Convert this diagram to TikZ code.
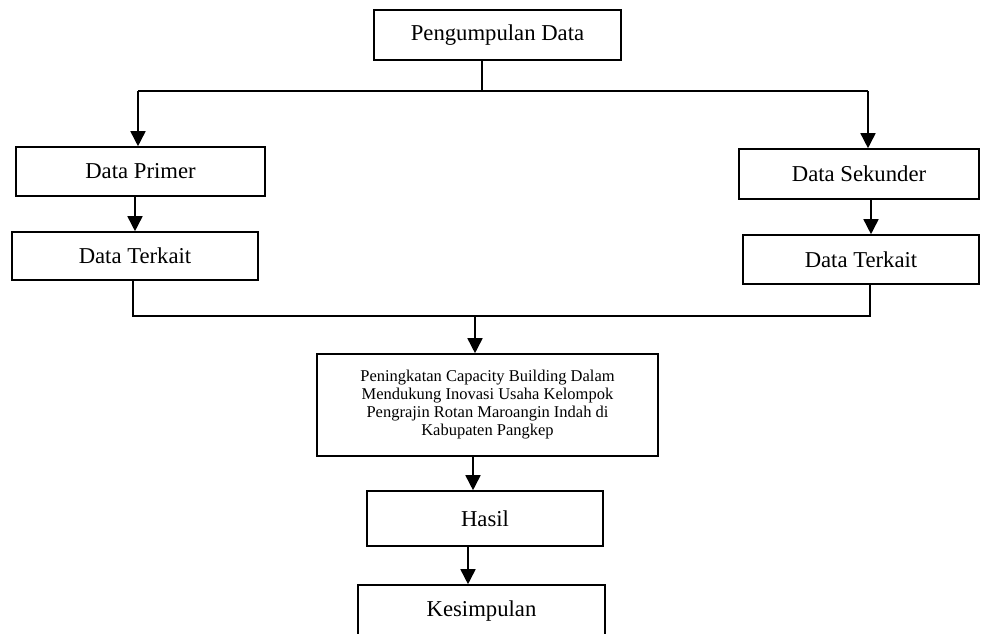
\documentclass[tikz,border=0pt]{standalone}
\usepackage{fontspec}
\setmainfont{Liberation Serif}
\usetikzlibrary{arrows.meta,calc}
\tikzset{
  box/.style={draw, line width=1.6pt, rectangle, inner sep=0pt, font=\fontsize{22.7}{26}\selectfont},
  conn/.style={line width=1.6pt},
  arr/.style={line width=1.6pt, -{Triangle[width=15pt,length=15pt]}},
}
\begin{document}
\begin{tikzpicture}[x=1pt,y=-1pt]
\clip (0,0) rectangle (981,633);
\fill[white] (0,0) rectangle (981,633);
\node[box, minimum width=247pt, minimum height=50pt] (top) at (497.5,35) {Pengumpulan Data};
\node[box, minimum width=249pt, minimum height=49pt] (prim) at (140.5,171.5) {Data Primer};
\node[box, minimum width=246pt, minimum height=48pt] (tkl) at (135,256) {Data Terkait};
\node[box, minimum width=240pt, minimum height=50pt] (sek) at (859,174) {Data Sekunder};
\node[box, minimum width=236pt, minimum height=49pt] (tkr) at (861,259.5) {Data Terkait};
\node[box, minimum width=341pt, minimum height=102pt, align=center,
      font=\fontsize{16.5}{18}\selectfont] (mid) at (487.5,405)
  {Peningkatan Capacity Building Dalam\\Mendukung Inovasi Usaha Kelompok\\Pengrajin Rotan Maroangin Indah di\\Kabupaten Pangkep};
\node[box, minimum width=236pt, minimum height=55pt] (hasil) at (485,518.5) {Hasil};
\node[box, minimum width=247pt, minimum height=52pt] (kes) at (481.5,611) {Kesimpulan};
% top split
\coordinate (jt) at (482,91);
\coordinate (jl) at (138,91);
\coordinate (jr) at (868,91);
\draw[conn] (jt |- top.south) -- (jt);
\draw[conn] (jl) -- (jr);
\draw[arr] (jl) -- (jl |- prim.north);
\draw[arr] (jr) -- (jr |- sek.north);
% chains
\draw[arr] (tkl.north |- prim.south) -- (tkl.north);
\coordinate (ar) at (871,200);
\draw[arr] (ar |- sek.south) -- (ar |- tkr.north);
% bottom merge
\coordinate (bl) at (133,316);
\coordinate (br) at (870,316);
\draw[conn] (bl |- tkl.south) -- (bl) -- (br) -- (br |- tkr.south);
\coordinate (bm) at (475,316);
\draw[arr] (bm) -- (bm |- mid.north);
\coordinate (m2) at (473,460);
\draw[arr] (m2 |- mid.south) -- (m2 |- hasil.north);
\coordinate (m3) at (468,560);
\draw[arr] (m3 |- hasil.south) -- (m3 |- kes.north);
\end{tikzpicture}
\end{document}
